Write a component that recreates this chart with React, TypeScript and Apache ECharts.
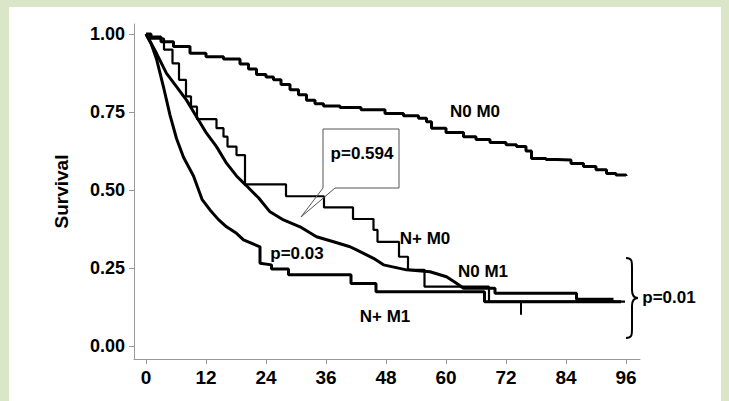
import React, { useEffect, useRef } from "react";
import * as echarts from "echarts";

const xTicks = [0, 12, 24, 36, 48, 60, 72, 84, 96];
const yTicks = [0, 0.25, 0.5, 0.75, 1];

const n0m0Months = [0, 1, 3, 5.5, 8.8, 12, 15.5, 18.8, 20.5, 22.1, 24, 25.5, 27, 28.8, 30.5, 32.1, 33.8, 35.5, 38.8, 43, 47.8, 51.5, 54.5, 56.1, 57.1, 60, 63.5, 66, 68.8, 72, 74.1, 76, 77.1, 80, 82.1, 85, 87.5, 90, 92.1, 94, 96];
const n0m0Surv = [1, 0.99, 0.975, 0.96, 0.938, 0.927, 0.92, 0.904, 0.888, 0.87, 0.862, 0.853, 0.838, 0.821, 0.805, 0.788, 0.776, 0.769, 0.764, 0.757, 0.745, 0.738, 0.73, 0.719, 0.698, 0.684, 0.671, 0.662, 0.652, 0.645, 0.639, 0.625, 0.601, 0.598, 0.596, 0.585, 0.575, 0.565, 0.553, 0.548, 0.545];

const npm0Months = [0, 0.8, 3.6, 5.3, 6.6, 8.0, 9.0, 10.2, 14.1, 15.5, 16.3, 18.1, 19.8, 28.0, 35.6, 41.4, 45.5, 46.3, 50.6, 52.4, 55.7, 68.6, 95.8];
const npm0Surv = [1, 0.985, 0.95, 0.906, 0.853, 0.8, 0.767, 0.727, 0.698, 0.671, 0.639, 0.612, 0.518, 0.48, 0.444, 0.407, 0.372, 0.334, 0.286, 0.244, 0.19, 0.142, 0.142];

const n0m1Months = [0, 2.1, 4.1, 6.1, 8.1, 10.1, 12.1, 14.1, 16.1, 18.1, 20, 22.5, 24.8, 27.5, 30.8, 34.1, 37.5, 40.8, 42.1, 45.5, 47.5, 52.1, 56.8, 60.1, 62.1, 63.5, 69.8, 69.8, 86.1, 86.1, 93.5];
const n0m1Surv = [1, 0.938, 0.874, 0.831, 0.788, 0.735, 0.682, 0.639, 0.586, 0.545, 0.515, 0.475, 0.43, 0.404, 0.382, 0.35, 0.334, 0.318, 0.308, 0.281, 0.26, 0.244, 0.238, 0.222, 0.201, 0.185, 0.185, 0.169, 0.169, 0.15, 0.15];

const npm1Months = [0, 1, 2.1, 3.5, 4.8, 6.1, 7.5, 9.5, 11.2, 12.8, 14.5, 16.1, 18.1, 19.5, 22.8, 22.8, 25.1, 25.1, 28.5, 28.5, 41, 41, 46, 46, 67.7, 67.7, 95];
const npm1Surv = [1, 0.97, 0.92, 0.83, 0.74, 0.665, 0.605, 0.545, 0.47, 0.436, 0.405, 0.382, 0.361, 0.34, 0.318, 0.265, 0.26, 0.247, 0.247, 0.228, 0.228, 0.2, 0.2, 0.174, 0.174, 0.142, 0.142];

const censorMonths = [75, 75];
const censorSurv = [0.142, 0.1];

const zip = (a: number[], b: number[]) => a.map((v, i) => [v, b[i]]);

const FONT = '"Liberation Sans", Arial, sans-serif';

export default function App() {
  const ref = useRef<HTMLDivElement>(null);
  useEffect(() => {
    document.body.style.margin = "0";
    const braceD =
      "M0,0 C6,0 6,3 6,10 L6,32 C6,38 8,40 12,40 C8,40 6,42 6,48 L6,70 C6,77 6,80 0,80";
    echarts.graphic.registerShape("brace", echarts.graphic.extendPath(braceD, {}));
    const chart = echarts.init(ref.current!, null, { renderer: "svg" });
    const lineStyle = (w: number) => ({ color: "#000", width: w });
    const txt = (text: string, x: number, y: number, size = 17) => ({
      type: "text",
      x,
      y,
      z: 10,
      style: {
        text,
        fill: "#000",
        font: `bold ${size}px ${FONT}`,
        textAlign: "center",
        textVerticalAlign: "middle",
        align: "center",
        verticalAlign: "middle",
      },
    });
    chart.setOption({
      animation: false,
      grid: { left: 134, right: 89, top: 24, bottom: 42 },
      xAxis: {
        type: "value",
        min: -2.4,
        max: 98.8,
        splitLine: { show: false },
        axisLine: { show: true, onZero: false, lineStyle: { color: "#999", width: 1 } },
        axisTick: { show: true, customValues: xTicks, length: 5, lineStyle: { color: "#999" } },
        axisLabel: {
          customValues: xTicks,
          margin: 9,
          color: "#000",
          fontWeight: "bold",
          fontSize: 19,
          fontFamily: FONT,
        },
      },
      yAxis: {
        type: "value",
        min: -0.0417,
        max: 1.032,
        name: "Survival",
        nameLocation: "middle",
        nameRotate: 90,
        nameGap: 63,
        nameTextStyle: { color: "#000", fontWeight: "bold", fontSize: 19, fontFamily: FONT },
        splitLine: { show: false },
        axisLine: { show: true, onZero: false, lineStyle: { color: "#999", width: 1 } },
        axisTick: { show: true, customValues: yTicks, length: 5, lineStyle: { color: "#999" } },
        axisLabel: {
          customValues: yTicks,
          margin: 9,
          color: "#000",
          fontWeight: "bold",
          fontSize: 18,
          fontFamily: FONT,
          formatter: (v: number) => v.toFixed(2),
        },
      },
      series: [
        { name: "N0 M0", type: "line", step: "end", data: zip(n0m0Months, n0m0Surv), symbol: "none", lineStyle: lineStyle(3) },
        { name: "N+ M0", type: "line", step: "end", data: zip(npm0Months, npm0Surv), symbol: "none", lineStyle: lineStyle(2.2) },
        { name: "N0 M1", type: "line", data: zip(n0m1Months, n0m1Surv), symbol: "none", lineStyle: lineStyle(3) },
        { name: "N+ M1", type: "line", data: zip(npm1Months, npm1Surv), symbol: "none", lineStyle: lineStyle(3) },
        { name: "censor", type: "line", data: zip(censorMonths, censorSurv), symbol: "none", lineStyle: lineStyle(2) },
      ],
      graphic: [
        {
          type: "polygon",
          z: 9,
          shape: { points: [[323, 129], [399, 129], [399, 188], [335, 188], [301, 217], [323, 188]] },
          style: { fill: "none", stroke: "#555", lineWidth: 1 },
        },
        txt("N0 M0", 475, 111),
        txt("p=0.594", 362, 153),
        txt("N+ M0", 425, 238),
        txt("p=0.03", 297, 253),
        txt("N0 M1", 483, 271),
        txt("N+ M1", 385, 316),
        txt("p=0.01", 669, 297),
        {
          type: "brace",
          x: 626,
          y: 258,
          z: 10,
          style: { fill: "none", stroke: "#000", lineWidth: 2 },
        },
      ],
    });
    return () => chart.dispose();
  }, []);
  return (
    <div style={{ position: "relative", width: 729, height: 401, background: "#dbe5c8", overflow: "hidden" }}>
      <div style={{ position: "absolute", left: 9, top: 7, width: 712, height: 394, background: "#fff" }} />
      <div ref={ref} style={{ position: "absolute", left: 0, top: 0, width: 729, height: 401 }} />
    </div>
  );
}
